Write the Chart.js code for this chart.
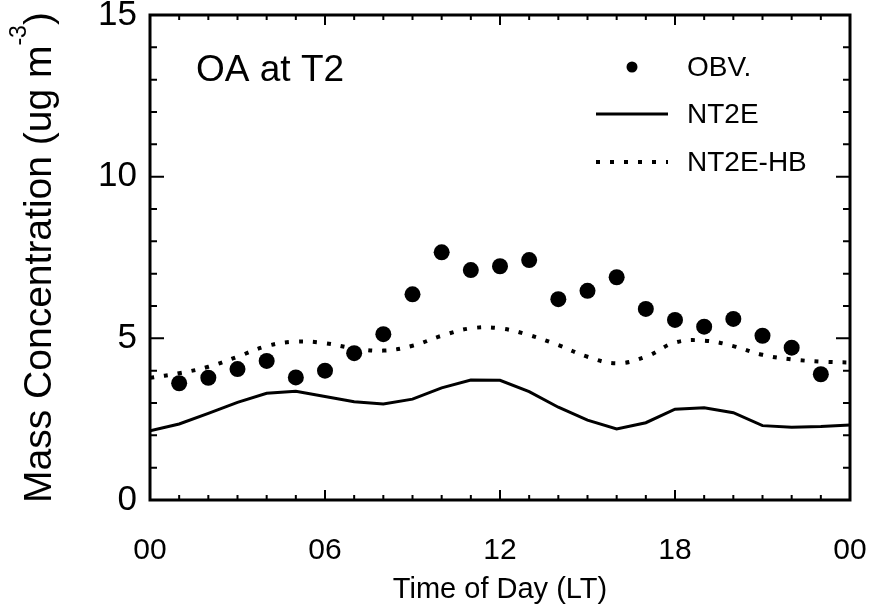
<!DOCTYPE html>
<html>
<head>
<meta charset="utf-8">
<title>OA at T2</title>
<script src="https://cdn.jsdelivr.net/npm/chart.js@4.4.1/dist/chart.umd.min.js"></script>
<style>
    html, body { margin: 0; padding: 0; background: #fff; }
    #wrap { width: 870px; height: 607px; }
</style>
</head>
<body>
<div id="wrap"><canvas id="chart" width="870" height="607"></canvas></div>
<script>
// values (hour of day, ug m-3)
const modelHours = [0, 1, 2, 3, 4, 5, 6, 7, 8, 9, 10, 11, 12, 13, 14, 15, 16, 17, 18, 19, 20, 21, 22, 23, 24];
const obsHours = [1, 2, 3, 4, 5, 6, 7, 8, 9, 10, 11, 12, 13, 14, 15, 16, 17, 18, 19, 20, 21, 22, 23];
const obsValues = [3.61, 3.78, 4.05, 4.30, 3.79, 4.00, 4.54, 5.13, 6.36, 7.66, 7.11, 7.23,
                   7.42, 6.21, 6.47, 6.89, 5.91, 5.57, 5.36, 5.60, 5.08, 4.71, 3.89];
const nt2eValues = [2.14, 2.35, 2.68, 3.02, 3.30, 3.36, 3.20, 3.04, 2.97, 3.12, 3.47, 3.71, 3.70,
                    3.35, 2.87, 2.47, 2.20, 2.39, 2.81, 2.85, 2.70, 2.30, 2.25, 2.27, 2.32];
const nt2eHbValues = [3.78, 3.92, 4.12, 4.43, 4.76, 4.90, 4.85, 4.69, 4.62, 4.77, 5.08, 5.31, 5.31,
                      5.10, 4.79, 4.43, 4.23, 4.43, 4.87, 4.93, 4.76, 4.49, 4.35, 4.28, 4.25];
const xTickLabels = ['00', '06', '12', '18', '00'];
const seriesLabels = ['OBV.', 'NT2E', 'NT2E-HB'];
const panelTitle = 'OA at T2';
const yTitle = 'Mass Concentration (ug m';
const yTitleSup = '-3';

const FONT = '"Liberation Sans", Arial, Helvetica, sans-serif';

const toPoints = (xs, ys) => xs.map((h, i) => ({ x: h, y: ys[i] }));

// 테두리 + 안쪽 눈금 (IDL 스타일)
const framePlugin = {
    id: 'frame',
    afterDatasetsDraw(chart) {
        const { ctx, chartArea: a, scales: { x, y } } = chart;
        ctx.save();
        ctx.strokeStyle = '#000';
        ctx.lineWidth = 2;
        ctx.beginPath();
        for (let h = 0; h <= 24; h++) {
            const px = x.getPixelForValue(h);
            const len = h % 6 === 0 ? 10 : 5;
            ctx.moveTo(px, a.bottom); ctx.lineTo(px, a.bottom - len);
            ctx.moveTo(px, a.top); ctx.lineTo(px, a.top + len);
        }
        for (let v = 0; v <= 15; v++) {
            const py = y.getPixelForValue(v);
            const len = v % 5 === 0 ? 14 : 7;
            ctx.moveTo(a.left, py); ctx.lineTo(a.left + len, py);
            ctx.moveTo(a.right, py); ctx.lineTo(a.right - len, py);
        }
        ctx.stroke();
        ctx.lineWidth = 3;
        ctx.strokeRect(a.left, a.top, a.right - a.left, a.bottom - a.top);
        ctx.restore();
    }
};

// 패널 제목, 범례, y축 제목
const labelsPlugin = {
    id: 'labels',
    afterDraw(chart) {
        const { ctx, chartArea: a } = chart;
        const ds = chart.data.datasets;
        ctx.save();
        ctx.fillStyle = '#000';
        ctx.textBaseline = 'middle';

        ctx.font = '37px ' + FONT;
        ctx.fillText(panelTitle, a.left + 46, 71);

        // legend
        const symX0 = 596, symX1 = 668, textX = 687;
        const rows = [67, 114, 162];
        ctx.font = '28px ' + FONT;
        seriesLabels.forEach((label, i) => {
            const y = rows[i];
            if (i === 0) {
                ctx.beginPath();
                ctx.arc((symX0 + symX1) / 2, y, 5.5, 0, Math.PI * 2);
                ctx.fill();
            } else {
                ctx.beginPath();
                ctx.strokeStyle = ds[i].borderColor;
                ctx.lineWidth = ds[i].borderWidth;
                ctx.setLineDash(ds[i].borderDash || []);
                ctx.moveTo(symX0, y);
                ctx.lineTo(symX1, y);
                ctx.stroke();
                ctx.setLineDash([]);
            }
            ctx.fillText(label, textX, y + 1);
        });

        // y title, rotated, with superscript
        ctx.translate(51, (a.top + a.bottom) / 2);
        ctx.rotate(-Math.PI / 2);
        ctx.textBaseline = 'alphabetic';
        ctx.font = '39px ' + FONT;
        const wMain = ctx.measureText(yTitle).width;
        ctx.font = '23px ' + FONT;
        const wSup = ctx.measureText(yTitleSup).width;
        ctx.font = '39px ' + FONT;
        const wClose = ctx.measureText(')').width;
        let cx = -(wMain + wSup + wClose) / 2;
        ctx.fillText(yTitle, cx, 0);
        cx += wMain;
        ctx.font = '23px ' + FONT;
        ctx.fillText(yTitleSup, cx, -25);
        cx += wSup;
        ctx.font = '39px ' + FONT;
        ctx.fillText(')', cx, 0);
        ctx.restore();
    }
};

const ctx = document.getElementById('chart').getContext('2d');
new Chart(ctx, {
    type: 'line',
    data: {
        datasets: [{
            label: seriesLabels[0],
            data: toPoints(obsHours, obsValues),
            showLine: false,
            pointRadius: 8,
            pointBackgroundColor: '#000',
            pointBorderWidth: 0,
            borderColor: '#000'
        }, {
            label: seriesLabels[1],
            data: toPoints(modelHours, nt2eValues),
            borderColor: '#000',
            borderWidth: 3,
            pointRadius: 0,
            tension: 0
        }, {
            label: seriesLabels[2],
            data: toPoints(modelHours, nt2eHbValues),
            borderColor: '#000',
            borderWidth: 4,
            borderDash: [4, 10],
            borderCapStyle: 'butt',
            pointRadius: 0,
            tension: 0.4
        }]
    },
    options: {
        responsive: false,
        animation: false,
        events: [],
        layout: { padding: { top: 15, right: 20, left: 0, bottom: 0 } },
        plugins: {
            legend: { display: false },
            tooltip: { enabled: false }
        },
        scales: {
            x: {
                type: 'linear',
                min: 0,
                max: 24,
                grid: { display: false, drawTicks: false, tickLength: 0 },
                border: { display: false },
                afterFit: s => {
                    s.height = 107;
                    s.paddingLeft = 0;
                    s.paddingRight = 0;
                },
                afterBuildTicks: s => { s.ticks = xTickLabels.map((_, i) => ({ value: i * 6 })); },
                ticks: {
                    color: '#000',
                    padding: 33,
                    maxRotation: 0,
                    font: { family: FONT, size: 30 },
                    callback: (v, i) => xTickLabels[i]
                },
                title: {
                    display: true,
                    text: 'Time of Day (LT)',
                    color: '#000',
                    font: { family: FONT, size: 29 },
                    padding: { top: 0, bottom: 0 }
                }
            },
            y: {
                min: 0,
                max: 15,
                grid: { display: false, drawTicks: false, tickLength: 0 },
                border: { display: false },
                afterFit: s => {
                    s.width = 150;
                    s.paddingTop = 0;
                    s.paddingBottom = 0;
                },
                ticks: {
                    color: '#000',
                    stepSize: 5,
                    padding: 13,
                    font: { family: FONT, size: 35 }
                }
            }
        }
    },
    plugins: [framePlugin, labelsPlugin]
});
</script>
</body>
</html>
